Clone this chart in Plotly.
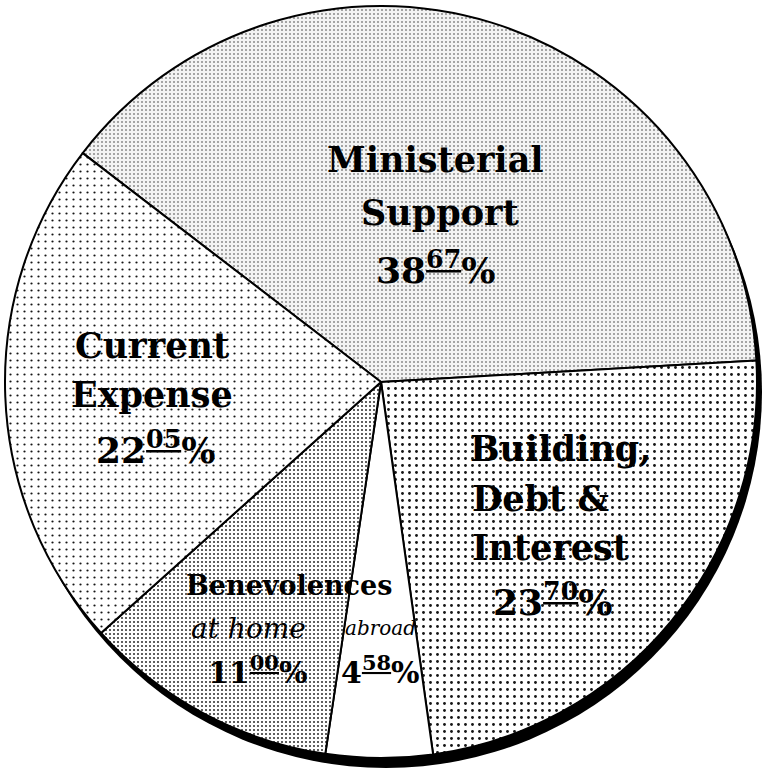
import plotly.graph_objects as go

# ---- data -------------------------------------------------------------
labels = ["Ministerial Support", "Building, Debt & Interest",
          "Benevolences abroad", "Benevolences at home", "Current Expense"]
values = [38.67, 23.70, 4.58, 11.00, 22.05]

# ---- styles -----------------------------------------------------------
pat_shape = [".", ".", "", ".", "."]
pat_fg = ["#8a8a8a", "#151515", "#ffffff", "#1a1a1a", "#151515"]
pat_bg = ["#f3f3f3", "#ffffff", "#ffffff", "#ffffff", "#ffffff"]
pat_size = [4, 7, 4, 4, 7]
pat_solid = [0.2, 0.13, 0.1, 0.17, 0.08]
slice_colors = ["#f3f3f3", "#ffffff", "#ffffff", "#ffffff", "#ffffff"]

W, H = 764, 769
CX, CY, R = 381, 382, 376
ML, MT = CX - R, CY - R
MR, MB = W - (CX + R), H - (CY + R)
FONT = "DejaVu Serif"


def paper(x, y):
    return (x - ML) / (2 * R), 1 - (y - MT) / (2 * R)


def pct(v):
    whole = int(v)
    dec = int(round((v - whole) * 100))
    return f"{whole}<sup><u>{dec:02d}</u></sup>%"


fig = go.Figure(go.Pie(
    labels=labels, values=values, sort=False, direction="clockwise",
    rotation=-52.5, textinfo="none", textposition="none",
    hoverinfo="skip", showlegend=False,
    marker=dict(colors=slice_colors,
                line=dict(color="#000000", width=2),
                pattern=dict(shape=pat_shape, fgcolor=pat_fg, bgcolor=pat_bg,
                             size=pat_size, solidity=pat_solid,
                             fillmode="replace")),
))

# drop shadow (thick rim on lower right)
dx, dy = 5, 10
x0, y1 = paper(CX + dx - R, CY + dy - R)
x1, y0 = paper(CX + dx + R, CY + dy + R)
fig.add_shape(type="circle", xref="paper", yref="paper",
              x0=x0, x1=x1, y0=y0, y1=y1, fillcolor="#000000",
              line=dict(width=0), layer="below")

ann = []


def add(text, x, y, size, anchor="center", italic=False, bold=True):
    px_, py_ = paper(x, y)
    t = text
    if italic:
        t = f"<i>{t}</i>"
    if bold:
        t = f"<b>{t}</b>"
    ann.append(dict(text=t, x=px_, y=py_, xref="paper", yref="paper",
                    xanchor=anchor, yanchor="middle", showarrow=False,
                    font=dict(family=FONT, size=size, color="#000000")))


# Ministerial Support
add("Ministerial", 435, 160, 35)
add("Support", 440, 212, 35)
add(pct(values[0]), 435, 268, 36)
# Current Expense
add("Current", 152, 345, 35)
add("Expense", 152, 394, 35)
add(pct(values[4]), 155, 447, 36)
# Building, Debt & Interest
add("Building,", 468, 449, 35, anchor="left")
add("Debt &amp;", 470, 498, 35, anchor="left")
add("Interest", 470, 547, 35, anchor="left")
add(pct(values[1]), 552, 599, 36)
# Benevolences
add("Benevolences", 289, 585, 27)
add("at home", 248, 628, 28, italic=True, bold=False)
add("abroad", 380, 628, 20, italic=True, bold=False)
add(pct(values[3]), 258, 670, 30)
add(pct(values[2]), 380, 670, 30)

fig.update_layout(
    width=W, height=H,
    margin=dict(l=ML, r=MR, t=MT, b=MB, pad=0),
    paper_bgcolor="#ffffff", plot_bgcolor="#ffffff",
    annotations=ann,
)

fig.write_html("out.html", config={"displayModeBar": False},
               post_script="document.body.style.margin='0px';")
